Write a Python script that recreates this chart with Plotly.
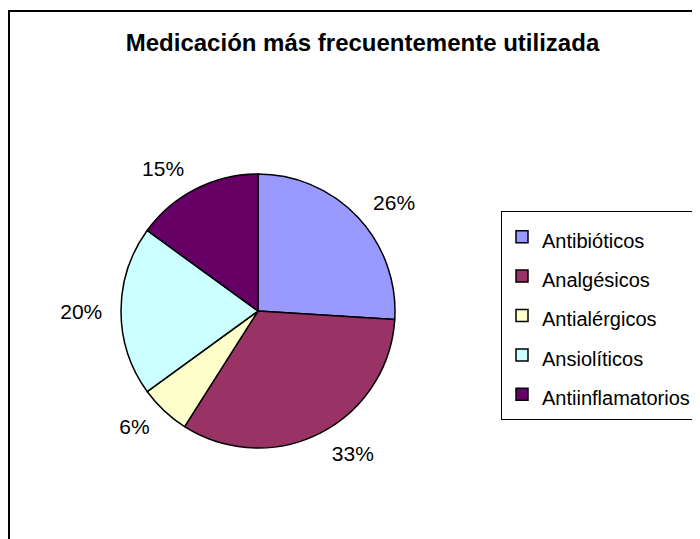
import plotly.graph_objects as go

categories = ["Antibióticos", "Analgésicos", "Antialérgicos", "Ansiolíticos", "Antiinflamatorios"]
values = [26, 33, 6, 20, 15]
colors = ["#9999FF", "#993366", "#FFFFCC", "#CCFFFF", "#660066"]
title_text = "Medicación más frecuentemente utilizada"

FONT = "Arial, Liberation Sans, sans-serif"
# the page body has an 8px default margin, so the figure is 8px smaller
W, H = 692, 531

legend_labels = [f"<span style='font-size:20px'>{c}</span>" for c in categories]

fig = go.Figure()
# main pie (slices + legend)
fig.add_trace(go.Pie(
    labels=legend_labels, values=values, sort=False, direction="clockwise", rotation=0,
    marker=dict(colors=colors, line=dict(color="#000000", width=1.5)),
    textinfo="none", hoverinfo="label+percent",
    domain=dict(x=[113 / W, 387 / W], y=[91 / H, 365 / H]),
    showlegend=True,
))
# transparent companion pie carrying the percent labels a bit further out
fig.add_trace(go.Pie(
    labels=legend_labels, values=values, sort=False, direction="clockwise", rotation=0,
    marker=dict(colors=["rgba(0,0,0,0)"] * len(values), line=dict(width=0)),
    textinfo="percent", textposition="outside",
    texttemplate="%{percent:.0%}",
    textfont=dict(family=FONT, size=21, color="#000000"),
    hoverinfo="skip",
    domain=dict(x=[100 / W, 400 / W], y=[78 / H, 378 / H]),
    showlegend=False,
))

fig.update_layout(
    width=W, height=H,
    margin=dict(l=0, r=0, t=0, b=0, autoexpand=False),
    paper_bgcolor="white", plot_bgcolor="white",
    font=dict(family=FONT, color="#000000"),
    title=dict(text=f"<b>{title_text}</b>", x=354.5 / W, xanchor="center",
               y=1 - 35 / H, yanchor="middle",
               font=dict(family=FONT, size=24, color="#000000")),
    legend=dict(x=493 / W, y=1 - 203 / H, xanchor="left", yanchor="top",
                bordercolor="#000000", borderwidth=1, bgcolor="white",
                font=dict(family=FONT, size=28, color="#000000"),
                traceorder="normal"),
    shapes=[dict(type="rect", xref="paper", yref="paper",
                 x0=1 / W, x1=1.05, y0=-0.05, y1=1 - 3 / H,
                 line=dict(color="#000000", width=2), layer="above")],
)

fig.write_html("out.html")
